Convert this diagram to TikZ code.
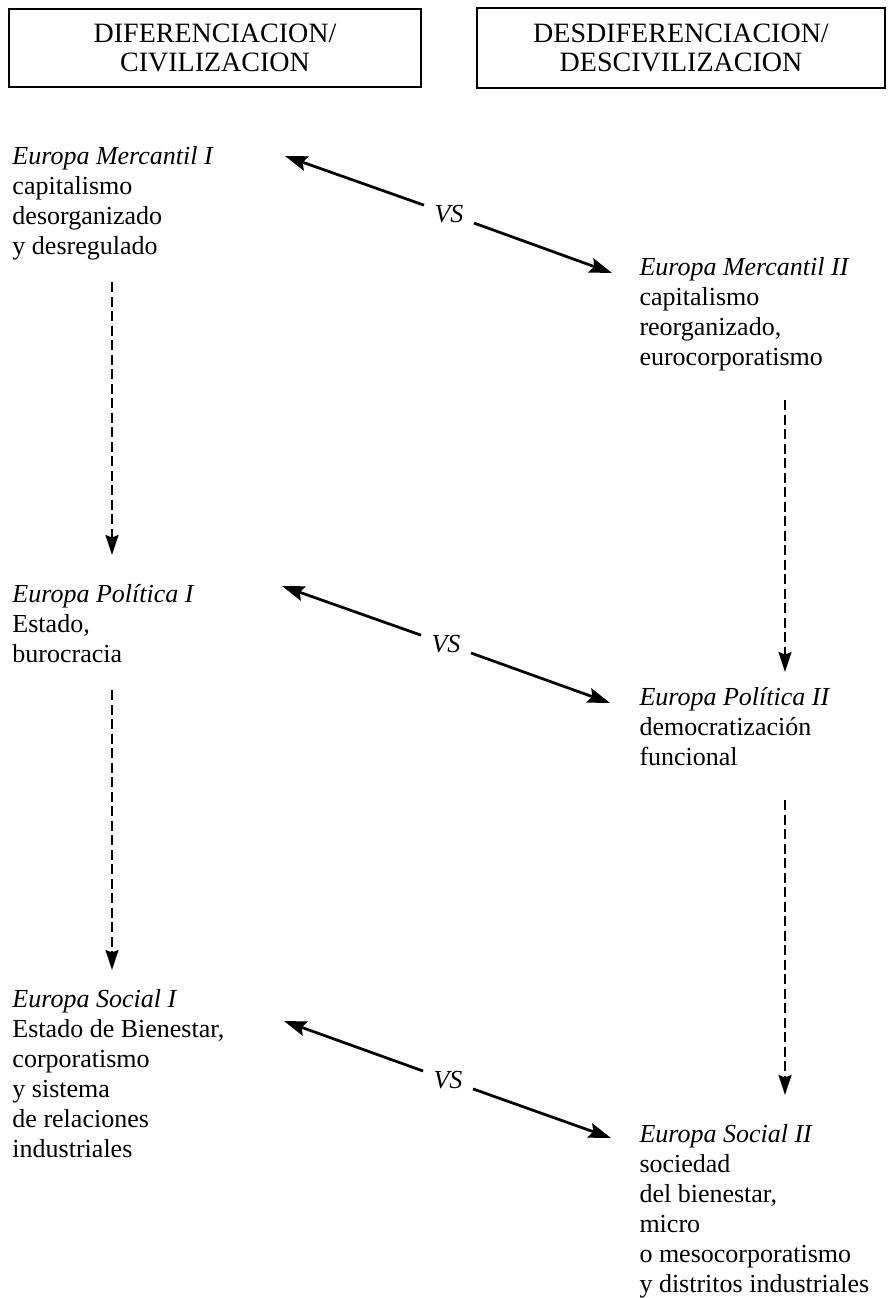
\documentclass[tikz,border=0pt]{standalone}
\usepackage{fontspec}
\setmainfont{Liberation Serif}
\usetikzlibrary{arrows.meta}

\tikzset{
  hdbox/.style={draw, line width=.6pt, align=center, inner sep=0pt,
    font=\fontsize{11.2}{11.6}\selectfont},
  txt/.style={anchor=north west, align=left, inner sep=0pt,
    font=\fontsize{10.4}{12}\selectfont},
  vslabel/.style={inner xsep=4pt, inner ysep=3pt,
    font=\fontsize{10.4}{12}\selectfont\itshape},
  vsarrow/.style={line width=1.1pt, -{Stealth[length=9pt,width=6pt,inset=1.5pt]}},
  flow/.style={line width=.9pt, dash pattern=on 4pt off 1.8pt,
    -{Stealth[length=8pt,width=5.2pt,inset=1pt]}}
}

\begin{document}
\begin{tikzpicture}[x=0.4pt,y=-0.4pt]
	\useasboundingbox (0,0) rectangle (887,1298);

	% column heads
	\node[hdbox, minimum width=164.8pt, minimum height=31.2pt] (hdA) at (215,48)
		{DIFERENCIACION/\\CIVILIZACION};
	\node[hdbox, minimum width=163.2pt, minimum height=32pt] (hdB) at (681,48)
		{DESDIFERENCIACION/\\DESCIVILIZACION};

	% left column
	\node[txt] (merA) at (12,146)
		{\textit{Europa Mercantil I}\\capitalismo\\desorganizado\\y desregulado};
	\node[txt] (polA) at (12,584)
		{\textit{Europa Política I}\\Estado,\\burocracia};
	\node[txt] (socA) at (12,989)
		{\textit{Europa Social I}\\Estado de Bienestar,\\corporatismo\\y sistema\\de relaciones\\industriales};

	% right column
	\node[txt] (merB) at (639,257)
		{\textit{Europa Mercantil II}\\capitalismo\\reorganizado,\\eurocorporatismo};
	\node[txt] (polB) at (639,687)
		{\textit{Europa Política II}\\democratización\\funcional};
	\node[txt] (socB) at (639,1124)
		{\textit{Europa Social II}\\sociedad\\del bienestar,\\micro\\o mesocorporatismo\\y distritos industriales};

	% vs arrows
	\coordinate (merL) at (285,156);
	\coordinate (merR) at (612,273);
	\node[vslabel] (vsMer) at (449,214) {VS};
	\draw[vsarrow] (vsMer) -- (merL);
	\draw[vsarrow] (vsMer) -- (merR);

	\coordinate (polL) at (282,586);
	\coordinate (polR) at (610,703);
	\node[vslabel] (vsPol) at (446,644) {VS};
	\draw[vsarrow] (vsPol) -- (polL);
	\draw[vsarrow] (vsPol) -- (polR);

	\coordinate (socL) at (284,1021);
	\coordinate (socR) at (611,1138);
	\node[vslabel] (vsSoc) at (448,1080) {VS};
	\draw[vsarrow] (vsSoc) -- (socL);
	\draw[vsarrow] (vsSoc) -- (socR);

	% dashed flow
	\coordinate (dLa) at (112,282);
	\coordinate (dLb) at (112,555);
	\coordinate (dLc) at (112,690);
	\coordinate (dLd) at (112,970);
	\coordinate (dRa) at (785,400);
	\coordinate (dRb) at (785,672);
	\coordinate (dRc) at (785,800);
	\coordinate (dRd) at (785,1095);
	\draw[flow] (dLa) -- (dLb);
	\draw[flow] (dLc) -- (dLd);
	\draw[flow] (dRa) -- (dRb);
	\draw[flow] (dRc) -- (dRd);

\end{tikzpicture}
\end{document}
